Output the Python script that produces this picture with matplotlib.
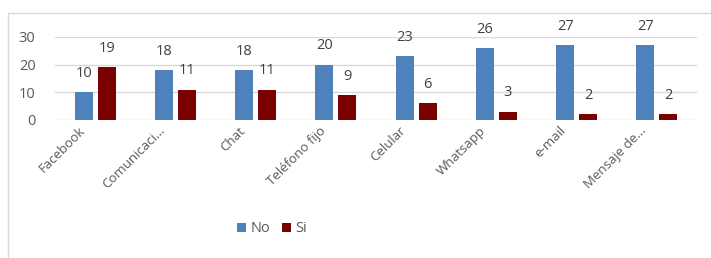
import matplotlib.pyplot as plt
import matplotlib.transforms as mtransforms
import numpy as np
from matplotlib.patches import Rectangle

categories = ["Facebook", "Comunicaci...", "Chat", "Teléfono fijo", "Celular",
              "Whatsapp", "e-mail", "Mensaje de..."]
no_vals = [10, 18, 18, 20, 23, 26, 27, 27]
si_vals = [19, 11, 11, 9, 6, 3, 2, 2]

plt.rcParams["font.family"] = ["Open Sans", "DejaVu Sans"]

fig = plt.figure(figsize=(7.11, 2.58), dpi=100)
fig.patches.append(Rectangle((8 / 711, -0.1), 1.1, 1 - 13 / 258 + 0.1,
                             transform=fig.transFigure, fill=False,
                             edgecolor="#D9D9D9", linewidth=1.0))

ax = fig.add_axes([55 / 711, 1 - 120 / 258, 642 / 711, 83 / 258])
x = np.arange(len(categories))
w = 0.225
b1 = ax.bar(x - w / 2 - 0.03, no_vals, w, color="#4F81BD", zorder=3)
b2 = ax.bar(x + w / 2 + 0.03, si_vals, w, color="#7B0000", zorder=3)

for bars, vals in ((b1, no_vals), (b2, si_vals)):
    for r, v in zip(bars, vals):
        ax.annotate(str(v), (r.get_x() + r.get_width() / 2, r.get_height()),
                    xytext=(0, 19), textcoords="offset pixels",
                    ha="center", va="center", fontsize=10.5, color="#404040",
                    annotation_clip=False)

ax.set_xlim(-0.5, len(categories) - 0.5)
ax.set_ylim(0, 30)
ax.set_yticks([0, 10, 20, 30])
ax.yaxis.grid(True, color="#D9D9D9", linewidth=1.0, zorder=0)
for s in ax.spines.values():
    s.set_visible(False)
ax.tick_params(axis="y", length=0, pad=14, labelsize=10.5, labelcolor="#595959")
ax.tick_params(axis="x", length=0, pad=3)
ax.set_xticks(x)
ax.set_xticklabels(categories, rotation=45, ha="right", rotation_mode="anchor",
                   fontsize=9.5, color="#595959")
shift = mtransforms.ScaledTranslation(-0.17, 0, fig.dpi_scale_trans)
for lbl in ax.get_xticklabels():
    lbl.set_transform(lbl.get_transform() + shift)

fig.legend(handles=[b1, b2], labels=["No", "Si"], loc="center",
           bbox_to_anchor=(272 / 711, 1 - 229 / 258), ncol=2, frameon=False,
           fontsize=10.5, handlelength=0.6, handleheight=0.6, handletextpad=0.3,
           columnspacing=0.8, labelcolor="#595959")

fig.savefig("out.png", dpi=100)
